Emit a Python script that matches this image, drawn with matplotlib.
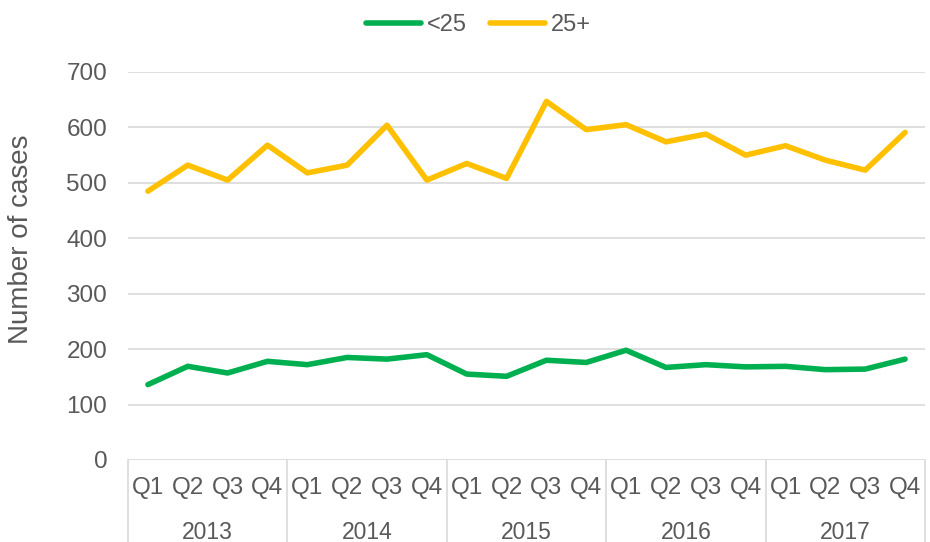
import numpy as np
import matplotlib.pyplot as plt
import matplotlib.transforms as mtransforms

plt.rcParams['font.family'] = ['Liberation Sans', 'DejaVu Sans']

# Data
years = ['2013', '2014', '2015', '2016', '2017']
quarters = ['Q1', 'Q2', 'Q3', 'Q4']
under25 = [136, 169, 157, 178, 172, 185, 182, 190, 155, 151,
           180, 176, 198, 167, 172, 168, 169, 163, 164, 182]
over25 = [485, 532, 505, 568, 518, 532, 604, 505, 535, 508,
          647, 596, 605, 574, 588, 550, 567, 541, 523, 591]

text_col = '#595959'
grid_col = '#d9d9d9'

fig = plt.figure(figsize=(9.3, 5.42), dpi=100)
ax = fig.add_axes([128 / 930, 82 / 542, 797 / 930, 388 / 542])

x = np.arange(len(under25))
ax.plot(x, under25, color='#00B050', lw=4, label='<25', solid_capstyle='round')
ax.plot(x, over25, color='#FFC000', lw=4, label='25+', solid_capstyle='round')

ax.set_xlim(-0.5, len(x) - 0.5)
ax.set_ylim(0, 700)
ax.set_yticks(range(0, 701, 100))
ax.yaxis.grid(True, color=grid_col, lw=1.2)
ax.set_axisbelow(True)
for s in ax.spines.values():
    s.set_visible(False)
ax.tick_params(axis='y', length=0, pad=15, labelsize=17.5, labelcolor=text_col)
ax.set_ylabel('Number of cases', fontsize=20, color=text_col)
ax.yaxis.set_label_coords(-0.118, 0.57)

# two-level category axis
ax.set_xticks(x)
ax.set_xticklabels(quarters * len(years))
ax.tick_params(axis='x', length=0, pad=12, labelsize=17.5, labelcolor=text_col)
trans = mtransforms.blended_transform_factory(ax.transData, ax.transAxes)
n = len(quarters)
for i, yr in enumerate(years):
    ax.text(i * n + (n - 1) / 2, -0.186, yr, transform=trans, ha='center', va='center',
            fontsize=16.5, color=text_col, family=['Liberation Sans Narrow', 'Liberation Sans'])
for k in range(len(years) + 1):
    ax.plot([k * n - 0.5] * 2, [0, -0.22], transform=trans, color=grid_col, lw=1.2,
            clip_on=False)

fig.legend(loc='center', bbox_to_anchor=(0.5145, 1 - 25 / 542), ncol=2, frameon=False,
           fontsize=17, handlelength=2.3, handletextpad=0.25, columnspacing=1.0,
           labelcolor=text_col)

fig.savefig('out.png', dpi=100)
